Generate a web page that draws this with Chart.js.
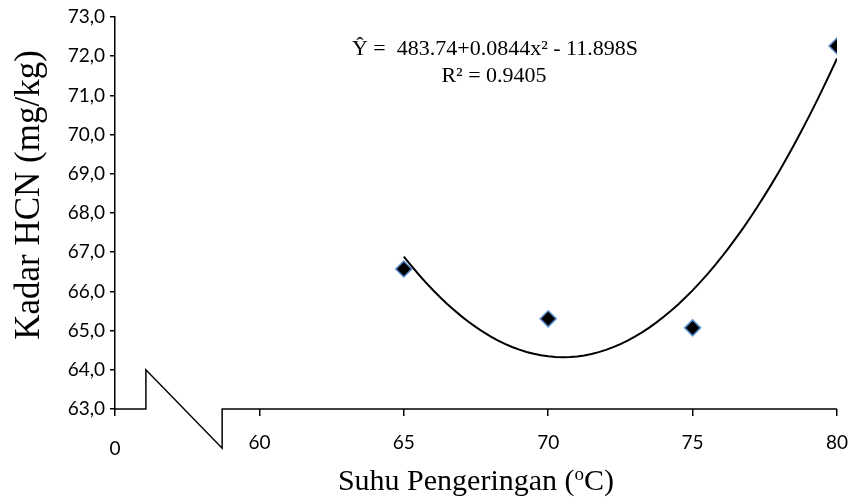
<!DOCTYPE html>
<html>
<head>
<meta charset="utf-8">
<script src="https://cdn.jsdelivr.net/npm/chart.js@4.4.1/dist/chart.umd.min.js"></script>
<style>
  html, body { margin: 0; padding: 0; background: #fff; }
</style>
</head>
<body>
<canvas id="chart" width="853" height="498"></canvas>
<script>
// drying temperature (°C) and HCN content (mg/kg)
const suhu = [65, 70, 75, 80];
const kadarHCN = [66.57, 65.30, 65.07, 72.26];

// x ticks: 55 sits at the origin and is shown as "0" before the axis break
const xTicks = [55, 60, 65, 70, 75, 80];
const yTicks = [63, 64, 65, 66, 67, 68, 69, 70, 71, 72, 73];

const equationLines = ['\u0176 =  483.74+0.0844x\u00b2 - 11.898S', 'R\u00b2 = 0.9405'];

// second-order polynomial least squares fit (same as the spreadsheet trendline)
function polyFit2(xs, ys) {
  const n = xs.length;
  let s = [0, 0, 0, 0, 0], t = [0, 0, 0];
  for (let i = 0; i < n; i++) {
    let p = 1;
    for (let k = 0; k < 5; k++) { s[k] += p; if (k < 3) t[k] += p * ys[i]; p *= xs[i]; }
  }
  const M = [[s[0], s[1], s[2], t[0]], [s[1], s[2], s[3], t[1]], [s[2], s[3], s[4], t[2]]];
  for (let c = 0; c < 3; c++) {
    for (let r = c + 1; r < 3; r++) {
      const f = M[r][c] / M[c][c];
      for (let k = c; k < 4; k++) M[r][k] -= f * M[c][k];
    }
  }
  const b = [0, 0, 0];
  for (let r = 2; r >= 0; r--) {
    let v = M[r][3];
    for (let k = r + 1; k < 3; k++) v -= M[r][k] * b[k];
    b[r] = v / M[r][r];
  }
  return b; // [c0, c1, c2]
}

const coef = polyFit2(suhu, kadarHCN);
const trend = [];
for (let x = suhu[0]; x <= suhu[suhu.length - 1] + 1e-9; x += 0.25) {
  trend.push({ x: x, y: coef[0] + coef[1] * x + coef[2] * x * x });
}

// broken x axis: stub, step up, diagonal down, step back up (data units)
const breakStart = 56.07, breakEnd = 58.71;
const breakTop = 64, breakBottom = 62;

const decorations = {
  id: 'decorations',
  afterDraw(chart) {
    const { ctx, scales: { x, y } } = chart;
    const y0 = y.getPixelForValue(yTicks[0]);
    ctx.save();
    ctx.strokeStyle = '#000';
    ctx.lineWidth = 1.5;
    ctx.beginPath();
    ctx.moveTo(x.getPixelForValue(xTicks[0]), y0);
    ctx.lineTo(x.getPixelForValue(breakStart), y0);
    ctx.lineTo(x.getPixelForValue(breakStart), y.getPixelForValue(breakTop));
    ctx.lineTo(x.getPixelForValue(breakEnd), y.getPixelForValue(breakBottom));
    ctx.lineTo(x.getPixelForValue(breakEnd), y0);
    ctx.lineTo(x.getPixelForValue(xTicks[xTicks.length - 1]), y0);
    ctx.stroke();

    // origin label
    ctx.fillStyle = '#000';
    ctx.font = '19px Lato';
    ctx.textAlign = 'center';
    ctx.textBaseline = 'middle';
    ctx.fillText('0', x.getPixelForValue(xTicks[0]), y0 + 40);

    // regression equation
    ctx.font = '22px "Liberation Serif"';
    ctx.fillText(equationLines[0], 495, 49);
    ctx.fillText(equationLines[1], 494, 76);

    // y axis title
    ctx.font = '35px "Liberation Serif"';
    ctx.save();
    ctx.translate(30, 195);
    ctx.rotate(-Math.PI / 2);
    ctx.fillText('Kadar HCN (mg/kg)', 0, 0);
    ctx.restore();

    // x axis title with raised degree "o"
    const partA = 'Suhu Pengeringan (', partO = 'o', partC = 'C)';
    const big = '30px "Liberation Serif"', small = '19px "Liberation Serif"';
    ctx.font = big;
    const wA = ctx.measureText(partA).width, wC = ctx.measureText(partC).width;
    ctx.font = small;
    const wO = ctx.measureText(partO).width;
    let tx = 476 - (wA + wO + wC) / 2;
    const base = 490;
    ctx.textAlign = 'left';
    ctx.textBaseline = 'alphabetic';
    ctx.font = big;
    ctx.fillText(partA, tx, base);
    tx += wA;
    ctx.font = small;
    ctx.fillText(partO, tx, base - 10);
    tx += wO;
    ctx.font = big;
    ctx.fillText(partC, tx, base);
    ctx.restore();
  }
};

new Chart(document.getElementById('chart'), {
  type: 'scatter',
  data: {
    datasets: [
      {
        label: 'Kadar HCN',
        data: suhu.map((v, i) => ({ x: v, y: kadarHCN[i] })),
        pointStyle: 'rectRot',
        pointRadius: 8,
        pointBackgroundColor: '#000',
        pointBorderColor: '#5b8fd1',
        pointBorderWidth: 1.5
      },
      {
        label: 'Poly.',
        data: trend,
        showLine: true,
        pointRadius: 0,
        borderColor: '#000',
        borderWidth: 2,
        tension: 0
      }
    ]
  },
  options: {
    responsive: false,
    animation: false,
    devicePixelRatio: 1,
    layout: { padding: { top: 17, right: 16, left: 0, bottom: 0 } },
    plugins: { legend: { display: false }, tooltip: { enabled: false } },
    scales: {
      x: {
        type: 'linear',
        min: xTicks[0],
        max: xTicks[xTicks.length - 1],
        afterBuildTicks: s => { s.ticks = xTicks.map(v => ({ value: v })); },
        afterFit: s => { s.height = 89; s.paddingLeft = 0; s.paddingRight = 0; },
        border: { display: false },
        grid: { drawOnChartArea: false, drawTicks: true, tickLength: 7, color: '#000', lineWidth: 1.5 },
        ticks: {
          color: '#000',
          padding: 15,
          font: { family: 'Lato', size: 19 },
          callback: v => (v === xTicks[0] ? '' : v)
        }
      },
      y: {
        min: yTicks[0],
        max: yTicks[yTicks.length - 1],
        afterBuildTicks: s => { s.ticks = yTicks.map(v => ({ value: v })); },
        afterFit: s => { s.width = 115; s.paddingTop = 0; s.paddingBottom = 0; },
        border: { display: true, color: '#000', width: 1.5 },
        grid: { drawOnChartArea: false, drawTicks: true, tickLength: 5, color: '#000', lineWidth: 1.5 },
        ticks: {
          color: '#000',
          padding: 5,
          font: { family: 'Lato', size: 19 },
          callback: v => v.toFixed(1).replace('.', ',')
        }
      }
    }
  },
  plugins: [decorations]
});
</script>
</body>
</html>
